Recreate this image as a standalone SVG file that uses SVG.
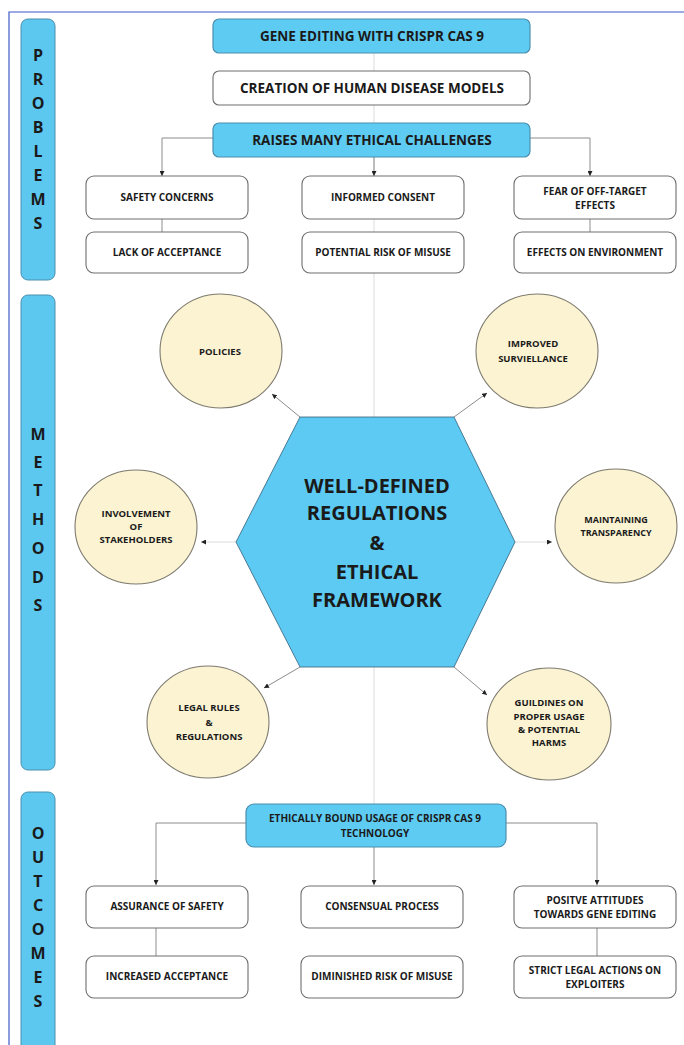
<svg xmlns="http://www.w3.org/2000/svg" width="684" height="1045" viewBox="0 0 684 1045">
<style>
text{font-family:"Open Sans","DejaVu Sans",sans-serif;font-weight:bold;fill:#1a1a1a;text-anchor:middle}
.bar{fill:#5cc8f0;stroke:#4a90b0;stroke-width:1}
.bl{font-size:16px}
.bb{fill:#5ecbf2;stroke:#4a8fb0;stroke-width:1.2}
.wb{fill:#fff;stroke:#6e6e6e;stroke-width:1.1}
.t1{font-size:13.5px}
.t2{font-size:10px}
.tc{font-size:9.5px}
.th{font-size:20px}
.cir{fill:#fcf3d2;stroke:#7d7a6e;stroke-width:1.1}
.ln{fill:none;stroke:#8c8c8c;stroke-width:1}
.fl{fill:none;stroke:#dcdcdc;stroke-width:1}
</style>
<defs>
<marker id="ah" markerWidth="5" markerHeight="5" refX="5" refY="2.5" orient="auto" markerUnits="userSpaceOnUse">
<path d="M0,0 L5,2.5 L0,5 z" fill="#222"/>
</marker>
</defs>
<rect width="684" height="1045" fill="#fff"/>
<path d="M9,1045 L9,12 L684,12" fill="none" stroke="#3a5bc8" stroke-width="1.2"/>

<g id="connectors">
<line class="fl" x1="374" y1="53" x2="374" y2="804"/>
<path class="ln" d="M213,138 H162 V176" marker-end="url(#ah)"/>
<path class="ln" d="M374,157 V176" marker-end="url(#ah)"/>
<path class="ln" d="M530,138 H590 V176" marker-end="url(#ah)"/>
<line class="ln" x1="162" y1="219" x2="162" y2="232"/>
<line class="ln" x1="590" y1="219" x2="590" y2="232"/>
<line class="ln" x1="300" y1="417" x2="272" y2="394" marker-end="url(#ah)"/>
<line class="ln" x1="454" y1="417" x2="487" y2="393" marker-end="url(#ah)"/>
<line class="fl" x1="236" y1="542" x2="201" y2="542" marker-end="url(#ah)"/>
<line class="fl" x1="515" y1="542" x2="552" y2="542" marker-end="url(#ah)"/>
<line class="ln" x1="300" y1="667" x2="264" y2="688" marker-end="url(#ah)"/>
<line class="ln" x1="454" y1="667" x2="487" y2="695" marker-end="url(#ah)"/>
<path class="ln" d="M246,823 H156 V885" marker-end="url(#ah)"/>
<path class="ln" d="M374,847 V885" marker-end="url(#ah)"/>
<path class="ln" d="M506,823 H597 V885" marker-end="url(#ah)"/>
<line class="ln" x1="156" y1="928" x2="156" y2="956"/>
<line class="ln" x1="597" y1="928" x2="597" y2="956"/>
</g>

<g id="bar-problems">
<rect class="bar" x="21" y="19" width="34" height="261" rx="7"/>
<text class="bl" x="38" y="61">P</text>
<text class="bl" x="38" y="85">R</text>
<text class="bl" x="38" y="109">O</text>
<text class="bl" x="38" y="133">B</text>
<text class="bl" x="38" y="157">L</text>
<text class="bl" x="38" y="181">E</text>
<text class="bl" x="38" y="205">M</text>
<text class="bl" x="38" y="229">S</text>
</g>
<g id="bar-methods">
<rect class="bar" x="21" y="295" width="34" height="475" rx="7"/>
<text class="bl" x="38" y="440">M</text>
<text class="bl" x="38" y="468">E</text>
<text class="bl" x="38" y="496">T</text>
<text class="bl" x="38" y="525">H</text>
<text class="bl" x="38" y="554">O</text>
<text class="bl" x="38" y="583">D</text>
<text class="bl" x="38" y="611">S</text>
</g>
<g id="bar-outcomes">
<rect class="bar" x="21" y="792" width="34" height="260" rx="7"/>
<text class="bl" x="38" y="839">O</text>
<text class="bl" x="38" y="863">U</text>
<text class="bl" x="38" y="887">T</text>
<text class="bl" x="38" y="911">C</text>
<text class="bl" x="38" y="935">O</text>
<text class="bl" x="38" y="959">M</text>
<text class="bl" x="38" y="983">E</text>
<text class="bl" x="38" y="1007">S</text>
</g>

<g id="gene-editing">
<rect class="bb" x="213" y="19" width="317" height="34" rx="6"/>
<text class="t1" x="372" y="41">GENE EDITING WITH CRISPR CAS 9</text>
</g>
<g id="creation">
<rect class="wb" x="213" y="71" width="317" height="34" rx="6"/>
<text class="t1" x="372" y="93">CREATION OF HUMAN DISEASE MODELS</text>
</g>
<g id="raises">
<rect class="bb" x="213" y="123" width="317" height="34" rx="6"/>
<text class="t1" x="372" y="145">RAISES MANY ETHICAL CHALLENGES</text>
</g>

<g id="safety">
<rect class="wb" x="86" y="176" width="162" height="43" rx="8"/>
<text class="t2" x="167" y="201">SAFETY CONCERNS</text>
</g>
<g id="informed">
<rect class="wb" x="302" y="176" width="162" height="43" rx="8"/>
<text class="t2" x="383" y="201">INFORMED CONSENT</text>
</g>
<g id="fear">
<rect class="wb" x="514" y="176" width="162" height="43" rx="8"/>
<text class="t2" x="595" y="195">FEAR OF OFF-TARGET</text>
<text class="t2" x="595" y="209">EFFECTS</text>
</g>
<g id="lack">
<rect class="wb" x="86" y="232" width="162" height="41" rx="8"/>
<text class="t2" x="167" y="256">LACK OF ACCEPTANCE</text>
</g>
<g id="potential">
<rect class="wb" x="302" y="232" width="162" height="41" rx="8"/>
<text class="t2" x="383" y="256">POTENTIAL RISK OF MISUSE</text>
</g>
<g id="environment">
<rect class="wb" x="514" y="232" width="162" height="41" rx="8"/>
<text class="t2" x="595" y="256">EFFECTS ON ENVIRONMENT</text>
</g>

<g id="hexagon">
<polygon points="300,417 454,417 515,542 454,667 300,667 236,542" fill="#5ccaf2" stroke="#35607a" stroke-width="0.8"/>
<text class="th" x="377" y="493">WELL-DEFINED</text>
<text class="th" x="377" y="520">REGULATIONS</text>
<text class="th" x="377" y="550">&amp;</text>
<text class="th" x="377" y="579">ETHICAL</text>
<text class="th" x="377" y="607">FRAMEWORK</text>
</g>

<g id="policies">
<ellipse class="cir" cx="221" cy="351" rx="61" ry="57"/>
<text class="tc" x="220" y="355">POLICIES</text>
</g>
<g id="surveillance">
<ellipse class="cir" cx="537" cy="351" rx="61" ry="57"/>
<text class="tc" x="533" y="347">IMPROVED</text>
<text class="tc" x="533" y="362">SURVIELLANCE</text>
</g>
<g id="stakeholders">
<ellipse class="cir" cx="136" cy="527" rx="61" ry="57"/>
<text class="tc" x="136" y="517">INVOLVEMENT</text>
<text class="tc" x="136" y="530">OF</text>
<text class="tc" x="136" y="543">STAKEHOLDERS</text>
</g>
<g id="transparency">
<ellipse class="cir" cx="616" cy="526" rx="61" ry="57"/>
<text class="tc" x="616" y="523" style="font-size:9px">MAINTAINING</text>
<text class="tc" x="616" y="536" style="font-size:9px">TRANSPARENCY</text>
</g>
<g id="legal">
<ellipse class="cir" cx="208" cy="722" rx="61" ry="56"/>
<text class="tc" x="209" y="711">LEGAL RULES</text>
<text class="tc" x="209" y="726">&amp;</text>
<text class="tc" x="209" y="740">REGULATIONS</text>
</g>
<g id="guidelines">
<ellipse class="cir" cx="549" cy="724" rx="62" ry="56"/>
<text class="tc" x="549" y="706">GUILDINES ON</text>
<text class="tc" x="549" y="720">PROPER USAGE</text>
<text class="tc" x="549" y="733">&amp; POTENTIAL</text>
<text class="tc" x="549" y="746">HARMS</text>
</g>

<g id="ethically-bound">
<rect class="bb" x="246" y="804" width="260" height="43" rx="8"/>
<text class="t2" x="375" y="822">ETHICALLY BOUND USAGE OF CRISPR CAS 9</text>
<text class="t2" x="375" y="837">TECHNOLOGY</text>
</g>
<g id="assurance">
<rect class="wb" x="86" y="886" width="162" height="42" rx="8"/>
<text class="t2" x="167" y="910">ASSURANCE OF SAFETY</text>
</g>
<g id="consensual">
<rect class="wb" x="301" y="886" width="162" height="42" rx="8"/>
<text class="t2" x="382" y="910">CONSENSUAL PROCESS</text>
</g>
<g id="positive">
<rect class="wb" x="514" y="886" width="162" height="42" rx="8"/>
<text class="t2" x="595" y="904">POSITVE ATTITUDES</text>
<text class="t2" x="595" y="918">TOWARDS GENE EDITING</text>
</g>
<g id="increased">
<rect class="wb" x="86" y="956" width="162" height="42" rx="8"/>
<text class="t2" x="167" y="980">INCREASED ACCEPTANCE</text>
</g>
<g id="diminished">
<rect class="wb" x="301" y="956" width="162" height="42" rx="8"/>
<text class="t2" x="382" y="980">DIMINISHED RISK OF MISUSE</text>
</g>
<g id="strict">
<rect class="wb" x="514" y="956" width="162" height="42" rx="8"/>
<text class="t2" x="595" y="974">STRICT LEGAL ACTIONS ON</text>
<text class="t2" x="595" y="988">EXPLOITERS</text>
</g>
</svg>
